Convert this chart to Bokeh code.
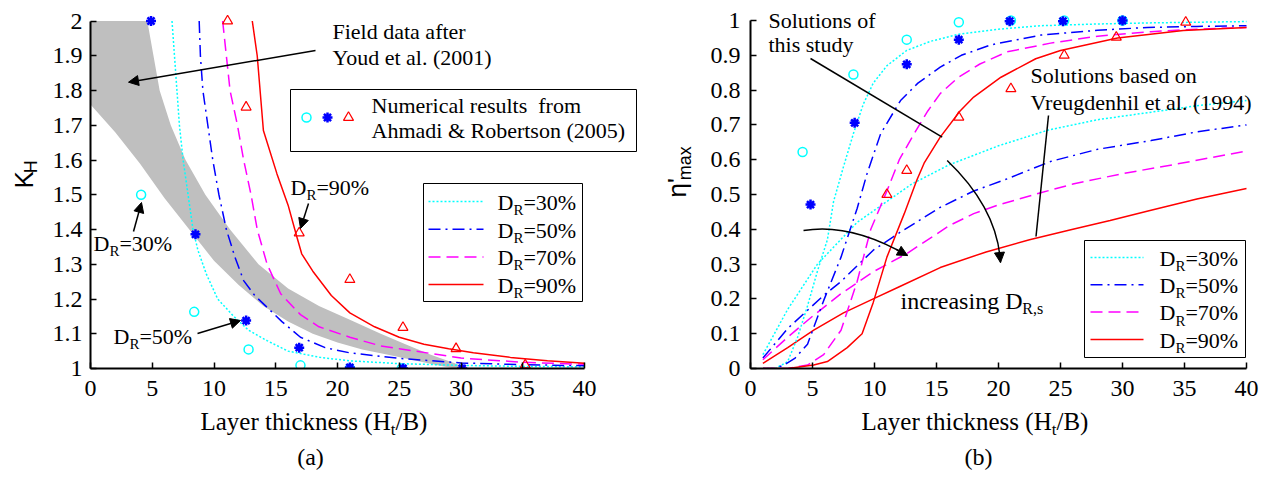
import math
from bokeh.plotting import figure
from bokeh.models import (Label, Arrow, NormalHead, BoxAnnotation, FixedTicker,
                          CustomJSTickFormatter, Range1d)
from bokeh.layouts import row, column
from bokeh.embed import file_html
from bokeh.resources import INLINE

# ---------------------------------------------------------------- data
x_ticks = [0, 5, 10, 15, 20, 25, 30, 35, 40]
kh_ticks = [1.0, 1.1, 1.2, 1.3, 1.4, 1.5, 1.6, 1.7, 1.8, 1.9, 2.0]
eta_ticks = [0.0, 0.1, 0.2, 0.3, 0.4, 0.5, 0.6, 0.7, 0.8, 0.9, 1.0]

# (a) field data band after Youd et al. (2001)
band_upper_x = [4.6, 5.1, 5.6, 6.5, 7.7, 9.3, 11.3, 13.6, 16.0, 18.5, 21.0, 23.5, 25.5, 27.5, 29.5, 30.5]
band_upper_k = [2.0, 1.9, 1.8, 1.7, 1.6, 1.5, 1.4, 1.3, 1.23, 1.18, 1.14, 1.1, 1.07, 1.04, 1.015, 1.0]
band_lower_x = [0, 2, 4, 6, 8, 10, 12, 14, 16, 18, 20, 22, 24, 26, 28, 29.5]
band_lower_k = [1.76, 1.68, 1.59, 1.49, 1.40, 1.31, 1.24, 1.18, 1.135, 1.10, 1.075, 1.055, 1.04, 1.025, 1.01, 1.0]

# (a) K_H curves of this study
a30_x = [6.6, 6.8, 7.0, 7.2, 7.5, 7.9, 8.3, 8.7, 9.4, 10.3, 11.6, 12.8, 14.3, 16.0, 18.6, 21.0, 25.0, 30.0, 35.0, 40.0]
a30_k = [2.0, 1.9, 1.8, 1.7, 1.6, 1.5, 1.4, 1.34, 1.27, 1.2, 1.15, 1.11, 1.08, 1.05, 1.032, 1.022, 1.014, 1.009, 1.006, 1.005]
a50_x = [8.8, 8.9, 9.1, 9.5, 9.9, 10.4, 11.0, 11.7, 12.4, 13.3, 14.3, 15.5, 17.0, 19.0, 21.0, 25.0, 30.0, 35.0, 40.0]
a50_k = [2.0, 1.9, 1.8, 1.7, 1.6, 1.5, 1.4, 1.32, 1.253, 1.21, 1.176, 1.135, 1.09, 1.06, 1.045, 1.029, 1.016, 1.011, 1.008]
a70_x = [10.7, 11.0, 11.3, 11.9, 12.4, 13.0, 13.5, 14.3, 15.4, 17.0, 18.5, 21.0, 23.5, 25.0, 30.0, 35.0, 40.0]
a70_k = [2.0, 1.9, 1.8, 1.7, 1.6, 1.5, 1.4, 1.3, 1.215, 1.155, 1.12, 1.09, 1.065, 1.057, 1.03, 1.018, 1.012]
a90_x = [13.1, 13.5, 14.0, 15.1, 16.0, 16.7, 17.1, 18.0, 19.5, 21.0, 23.0, 25.0, 27.0, 29.0, 31.0, 34.0, 37.0, 40.0]
a90_k = [2.0, 1.9, 1.685, 1.56, 1.47, 1.38, 1.33, 1.28, 1.21, 1.16, 1.12, 1.09, 1.07, 1.057, 1.045, 1.032, 1.022, 1.015]

# (a) numerical results, Ahmadi & Robertson (2005)
a_circ_x = [4.1, 8.4, 12.8, 17.0, 21.0, 25.2]
a_circ_k = [1.5, 1.163, 1.055, 1.009, 1.0, 1.0]
a_star_x = [4.9, 8.5, 12.6, 16.9, 21.0, 25.3, 30.1]
a_star_k = [2.0, 1.386, 1.138, 1.06, 1.003, 1.0, 1.0]
a_tri_x = [11.1, 12.6, 16.9, 21.0, 25.3, 29.6, 35.2]
a_tri_k = [2.0, 1.752, 1.39, 1.256, 1.118, 1.057, 1.01]

# (b) solutions of this study
b30s_x = [1, 2, 3, 3.8, 4.6, 5.4, 6.2, 6.7, 7.5, 8.3, 9.1, 9.9, 11, 12.6, 14.5, 16.7, 20, 23.4, 28, 32, 36, 40]
b30s_e = [0, 0, 0.02, 0.09, 0.18, 0.28, 0.37, 0.48, 0.58, 0.675, 0.76, 0.82, 0.87, 0.914, 0.94, 0.96, 0.975, 0.985, 0.99, 0.993, 0.995, 0.997]
b50s_x = [1, 2, 2.7, 3.6, 4.6, 5.9, 7.3, 8.6, 9.4, 10.5, 12.1, 13.5, 15.3, 17, 19.4, 23.4, 28, 32, 36, 40]
b50s_e = [0, 0, 0.01, 0.03, 0.07, 0.195, 0.32, 0.46, 0.56, 0.675, 0.77, 0.82, 0.866, 0.9, 0.93, 0.958, 0.972, 0.98, 0.983, 0.985]
b70s_x = [1, 3, 4.6, 5.9, 7.3, 8.6, 9.7, 11, 12, 13.2, 14.3, 15.3, 16.7, 18.5, 20.7, 24.2, 28, 32.3, 36, 40]
b70s_e = [0, 0, 0.01, 0.04, 0.11, 0.25, 0.40, 0.51, 0.6, 0.675, 0.74, 0.79, 0.835, 0.875, 0.91, 0.935, 0.955, 0.968, 0.975, 0.98]
b90s_x = [1, 3, 5.1, 6.2, 7.8, 9.0, 9.9, 11, 12.4, 13.4, 14.0, 15.3, 16.9, 18, 20.2, 23, 25, 29.6, 34.9, 40]
b90s_e = [0, 0, 0.01, 0.02, 0.06, 0.1, 0.19, 0.32, 0.445, 0.54, 0.59, 0.665, 0.74, 0.78, 0.837, 0.89, 0.914, 0.95, 0.971, 0.98]

# (b) solutions based on Vreugdenhil et al. (1994)
b30v_x = [1, 3, 5.4, 8.6, 11, 13, 16, 20, 24, 28, 32, 36, 40]
b30v_e = [0.04, 0.17, 0.30, 0.42, 0.48, 0.53, 0.585, 0.64, 0.685, 0.715, 0.735, 0.755, 0.77]
b50v_x = [1, 3, 5.9, 7.3, 9.9, 12, 15.3, 18, 20.7, 24.2, 28, 32.3, 36, 40]
b50v_e = [0.03, 0.115, 0.21, 0.25, 0.34, 0.39, 0.463, 0.51, 0.545, 0.595, 0.63, 0.655, 0.68, 0.70]
b70v_x = [1, 3, 5, 7.3, 10, 12.6, 16, 18, 20, 23.4, 26, 30, 34, 37, 40]
b70v_e = [0.025, 0.09, 0.15, 0.215, 0.28, 0.33, 0.41, 0.445, 0.47, 0.505, 0.53, 0.56, 0.585, 0.605, 0.625]
b90v_x = [1, 3, 5.1, 7.5, 9.9, 12, 15.3, 19, 22.5, 26, 29, 32.3, 36, 40]
b90v_e = [0.015, 0.06, 0.11, 0.16, 0.2, 0.235, 0.29, 0.335, 0.37, 0.40, 0.425, 0.455, 0.487, 0.517]

# (b) numerical results
b_circ_x = [4.2, 8.3, 12.6, 16.8, 21.0, 25.3, 30.0]
b_circ_e = [0.622, 0.845, 0.945, 0.995, 1.0, 1.0, 1.0]
b_star_x = [4.84, 8.4, 12.6, 16.8, 20.9, 25.2, 30.0]
b_star_e = [0.471, 0.706, 0.874, 0.945, 0.998, 0.998, 1.0]
b_tri_x = [11.0, 12.6, 16.8, 21.0, 25.3, 29.5, 35.1]
b_tri_e = [0.5, 0.569, 0.722, 0.804, 0.9, 0.952, 0.995]

series_labels = ["=30%", "=50%", "=70%", "=90%"]

# ---------------------------------------------------------------- styles
SERIF = "Liberation Serif"
SANS = "Liberation Sans"
CYAN, BLUE, MAGENTA, RED = "#00FFFF", "#0000FF", "#FF00FF", "#FF0000"
COLORS = [CYAN, BLUE, MAGENTA, RED]
DASHES = ["2 2", "12 5 2 5", "12 6", "solid"]
LW = 1.5
BASE_SHIFT = 0.37   # alphabetic-baseline correction (fraction of font size)


# page-pixel -> data helpers (annotation placement only)
def ax(X): return (X - 90) / 12.35
def ay(Y): return 1 + (368 - Y) / 347.5
def bx(X): return (X - 750) / 12.4
def by(Y): return (368 - Y) / 348.0
def ident(v): return v


def make_fig(x_end, y_start, y_end, frame_w, bl, br):
    p = figure(frame_width=frame_w, frame_height=358,
               x_range=Range1d(0, x_end), y_range=Range1d(y_start, y_end),
               min_border_left=bl, min_border_right=br, min_border_top=10,
               min_border_bottom=40, output_backend="svg", toolbar_location=None,
               background_fill_color="white", border_fill_color="white")
    p.xgrid.visible = False
    p.ygrid.visible = False
    p.outline_line_color = None
    return p


def make_strip(x0, y0, w, h):
    # blank text strip whose data coordinates equal page pixels
    s = figure(width=w, height=h, x_range=Range1d(x0, x0 + w), y_range=Range1d(y0 + h, y0),
               min_border=0, min_border_left=0, min_border_right=0, min_border_top=0,
               min_border_bottom=0, output_backend="svg", toolbar_location=None,
               background_fill_color="white", border_fill_color="white")
    s.axis.visible = False
    s.xgrid.visible = False
    s.ygrid.visible = False
    s.outline_line_color = None
    return s


def style_axes(p, xticks, yticks, xbounds, ybounds, ystand):
    p.xaxis.ticker = FixedTicker(ticks=xticks)
    p.yaxis.ticker = FixedTicker(ticks=yticks)
    p.xaxis.bounds = xbounds
    p.yaxis.bounds = ybounds
    for axis in (p.xaxis[0], p.yaxis[0]):
        axis.formatter = CustomJSTickFormatter(code="return tick.toFixed(1).replace(/\\.0$/, '');")
        axis.axis_line_width = 2
        axis.axis_line_color = "black"
        axis.major_tick_in = 6
        axis.major_tick_out = 0
        axis.major_tick_line_width = 1.5
        axis.major_tick_line_color = "black"
        axis.minor_tick_line_color = None
        axis.major_label_text_font = SERIF
        axis.major_label_text_font_size = "24px"
        axis.major_label_text_color = "black"
    p.xaxis.major_label_standoff = 12
    p.yaxis.major_label_standoff = ystand


def text(p, cx, cy, X, Y, s, size=22, font=SERIF, align="left", angle=0.0):
    if angle == 0.0:
        Y = Y - BASE_SHIFT * size
    else:
        X = X - BASE_SHIFT * size
    p.add_layout(Label(x=cx(X), y=cy(Y), text=s, text_font=font,
                       text_font_size=f"{size}px", text_align=align,
                       text_baseline="alphabetic", angle=angle, text_color="black"))


def dr_label(p, cx, cy, X, Y, rest, size=22, sub=15):
    text(p, cx, cy, X, Y, "D", size)
    wD = 0.722 * size
    text(p, cx, cy, X + wD, Y + 5, "R", sub)
    text(p, cx, cy, X + wD + 0.667 * sub, Y, rest, size)


def arrow(p, cx, cy, X0, Y0, X1, Y1, head=True, color="black", dash="solid", width=1.5):
    end = NormalHead(size=10, fill_color="black", line_color="black", line_width=1) if head else None
    p.add_layout(Arrow(x_start=cx(X0), y_start=cy(Y0), x_end=cx(X1), y_end=cy(Y1),
                       line_width=width, line_color=color, line_dash=dash, end=end))


def box(p, cx, cy, X0, Y0, X1, Y1):
    p.add_layout(BoxAnnotation(left=cx(X0), right=cx(X1), top=cy(Y0), bottom=cy(Y1),
                               fill_color="white", fill_alpha=1.0, line_color="black",
                               line_alpha=1.0, line_width=1))


def xlabel(p, X, Y):
    text(p, ident, ident, X, Y, "Layer thickness (H", 25)
    w1 = 7.609 * 25
    text(p, ident, ident, X + w1, Y + 5, "t", 17)
    text(p, ident, ident, X + w1 + 0.278 * 17, Y, "/B)", 25)


# ================================================================ panel (a)
pa = make_fig(550 / 12.35, 1.0, 1.0 + 358 / 347.5, 550, 45, 0)
style_axes(pa, x_ticks, kh_ticks, (0, 40), (1, 2), 8)

band_x = [0] + band_upper_x + band_lower_x[::-1]
band_k = [2.0] + band_upper_k + band_lower_k[::-1]
pa.patch(band_x, band_k, fill_color="#BFBFBF", line_color=None)

for (xs, ys), c, d in zip([(a30_x, a30_k), (a50_x, a50_k), (a70_x, a70_k), (a90_x, a90_k)], COLORS, DASHES):
    pa.line(xs, ys, line_color=c, line_width=LW, line_dash=d)

pa.scatter(a_circ_x, a_circ_k, marker="circle", size=9, fill_color=None, line_color=CYAN, line_width=1.5)
pa.scatter(a_star_x, a_star_k, marker="asterisk", size=10, line_color=BLUE, line_width=2.5)
pa.scatter(a_tri_x, a_tri_k, marker="triangle", size=10, fill_color=None, line_color=RED, line_width=1.2)

text(pa, ax, ay, 332, 39, "Field data after")
text(pa, ax, ay, 332, 65, "Youd et al. (2001)")
arrow(pa, ax, ay, 315, 50, 128, 81.7)

box(pa, ax, ay, 290, 89, 636, 151)
pa.scatter([ax(306)], [ay(117)], marker="circle", size=9, fill_color=None, line_color=CYAN, line_width=1.5, level="overlay")
pa.scatter([ax(327)], [ay(117)], marker="asterisk", size=10, line_color=BLUE, line_width=2.5, level="overlay")
pa.scatter([ax(348)], [ay(117)], marker="triangle", size=10, fill_color=None, line_color=RED, line_width=1.2, level="overlay")
text(pa, ax, ay, 371, 113, "Numerical results\u00a0 from")
text(pa, ax, ay, 371, 138, "Ahmadi & Robertson (2005)")

dr_label(pa, ax, ay, 290, 195, "=90%")
arrow(pa, ax, ay, 308, 203, 300, 228)
dr_label(pa, ax, ay, 93, 251, "=30%")
arrow(pa, ax, ay, 133, 231, 141, 202)
dr_label(pa, ax, ay, 113, 344, "=50%")
arrow(pa, ax, ay, 197, 333, 240, 320)

box(pa, ax, ay, 423, 183, 582, 301)
for i, (c, d, lab) in enumerate(zip(COLORS, DASHES, series_labels)):
    base = 210 + 27.7 * i
    arrow(pa, ax, ay, 428, base - 9, 483, base - 9, head=False, color=c, dash=d, width=LW)
    dr_label(pa, ax, ay, 497, base, lab)

# ================================================================ panel (b)
pb = make_fig(512 / 12.4, 0.0, 358 / 348.0, 512, 48, 10)
style_axes(pb, x_ticks, eta_ticks, (0, 40), (0, 1), 10)

study = [(b30s_x, b30s_e), (b50s_x, b50s_e), (b70s_x, b70s_e), (b90s_x, b90s_e)]
vreug = [(b30v_x, b30v_e), (b50v_x, b50v_e), (b70v_x, b70v_e), (b90v_x, b90v_e)]
for (xs, ys), c, d in zip(vreug, COLORS, DASHES):
    pb.line(xs, ys, line_color=c, line_width=LW, line_dash=d)
for (xs, ys), c, d in zip(study, COLORS, DASHES):
    pb.line(xs, ys, line_color=c, line_width=LW, line_dash=d)

pb.scatter(b_circ_x, b_circ_e, marker="circle", size=9, fill_color=None, line_color=CYAN, line_width=1.5)
pb.scatter(b_star_x, b_star_e, marker="asterisk", size=10, line_color=BLUE, line_width=2.5)
pb.scatter(b_tri_x, b_tri_e, marker="triangle", size=10, fill_color=None, line_color=RED, line_width=1.2)

text(pb, bx, by, 768, 28, "Solutions of")
text(pb, bx, by, 768, 52, "this study")
arrow(pb, bx, by, 810, 58, 941.7, 136.7, head=False)
text(pb, bx, by, 1030, 83, "Solutions based on")
text(pb, bx, by, 1030, 110, "Vreugdenhil et al. (1994)")
arrow(pb, bx, by, 1048, 115, 1035.5, 236, head=False)

pb.quadratic(x0=[bx(946.7)], y0=[by(160)], x1=[bx(1000)], y1=[by(262)],
             cx=[bx(997)], cy=[by(208)], line_color="black", line_width=1.5)
arrow(pb, bx, by, 998.9, 251.3, 1000, 262)
pb.quadratic(x0=[bx(803)], y0=[by(230)], x1=[bx(907)], y1=[by(255)],
             cx=[bx(850)], cy=[by(222)], line_color="black", line_width=1.5)
arrow(pb, bx, by, 895.7, 248.8, 907, 255)

text(pb, bx, by, 900, 309, "increasing D", 24)
text(pb, bx, by, 900 + 5.082 * 24 - 0.25, 314, "R,s", 16)

box(pb, bx, by, 1084, 240, 1245, 357)
for i, (c, d, lab) in enumerate(zip(COLORS, DASHES, series_labels)):
    base = 266 + 27.3 * i
    arrow(pb, bx, by, 1090, base - 9, 1143, base - 9, head=False, color=c, dash=d, width=LW)
    dr_label(pb, bx, by, 1159, base, lab)

# ================================================================ text strips
left_a = make_strip(0, 0, 45, 408)
text(left_a, ident, ident, 33, 203, "K", 26, font=SANS, angle=math.pi / 2)
text(left_a, ident, ident, 37, 185.5, "H", 18, font=SANS, angle=math.pi / 2)

left_b = make_strip(640, 0, 62, 408)
text(left_b, ident, ident, 686, 213, "\u03b7'", 26, font=SANS, angle=math.pi / 2)
text(left_b, ident, ident, 691, 193.5, "max", 18, font=SANS, angle=math.pi / 2)

bottom = make_strip(0, 408, 1272, 75)
xlabel(bottom, 200, 430)
text(bottom, ident, ident, 310, 465, "(a)", 24, align="center")
xlabel(bottom, 861, 430)
text(bottom, ident, ident, 978, 465, "(b)", 24, align="center")

layout = column(row(left_a, pa, left_b, pb), bottom)
open("out.html", "w").write(file_html(layout, INLINE))
